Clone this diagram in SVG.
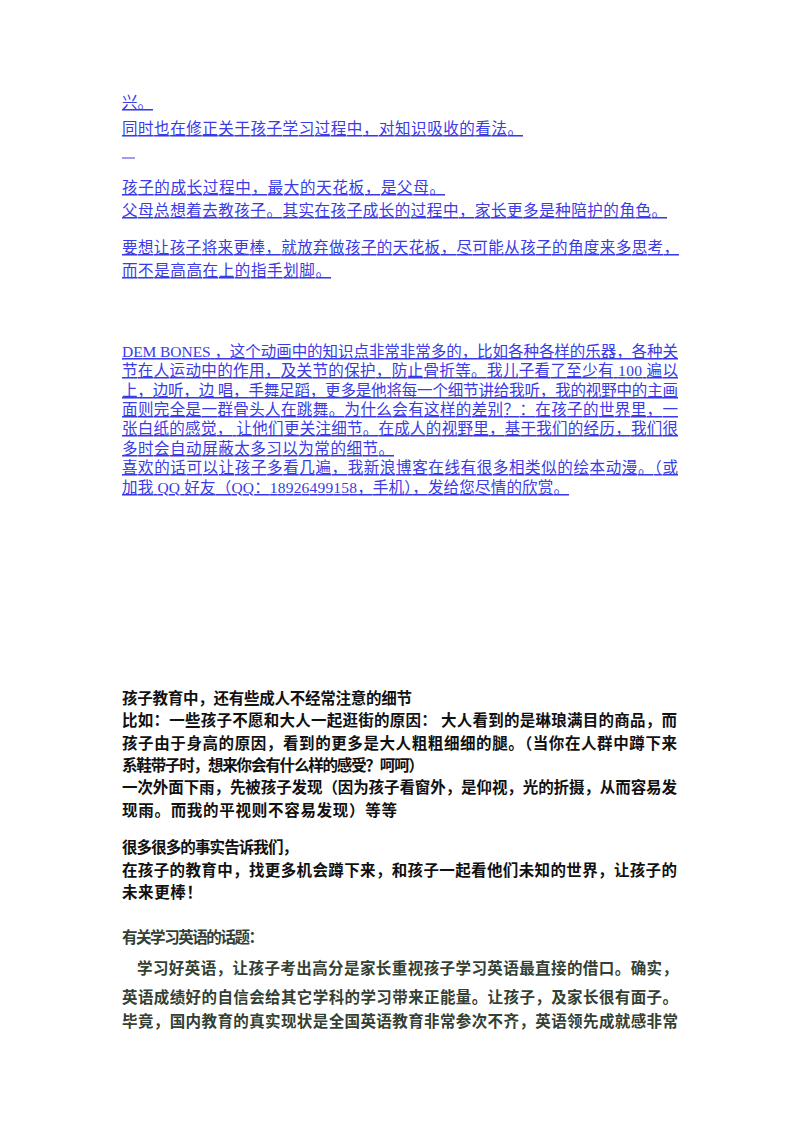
<svg xmlns="http://www.w3.org/2000/svg" width="800" height="1132" viewBox="0 0 800 1132">
<style>
.b{font-family:"Liberation Serif","Noto Sans CJK SC",serif;font-size:15.5px;fill:#3a3ae6;text-decoration:underline}
.k{font-family:"Liberation Serif","Noto Sans CJK SC",serif;font-size:15.5px;font-weight:bold;fill:#111}
.g{font-family:"Liberation Serif","Noto Sans CJK SC",serif;font-size:15.5px;font-weight:bold;fill:#334033}
</style>
<rect width="800" height="1132" fill="#fff"/>
<g id="blue1">
<text class="b" x="122" y="108">兴。</text>
<text class="b" x="122" y="134" textLength="401">同时也在修正关于孩子学习过程中，对知识吸收的看法。</text>
<line x1="122" y1="158" x2="135" y2="158" stroke="#3a3ae6" stroke-width="1"/>
<text class="b" x="122" y="193" textLength="323">孩子的成长过程中，最大的天花板，是父母。</text>
<text class="b" x="122" y="216" textLength="545">父母总想着去教孩子。其实在孩子成长的过程中，家长更多是种陪护的角色。</text>
<text class="b" x="122" y="253" textLength="557">要想让孩子将来更棒，就放弃做孩子的天花板，尽可能从孩子的角度来多思考，</text>
<text class="b" x="122" y="276" textLength="209">而不是高高在上的指手划脚。</text>
</g>
<g id="blue2">
<text class="b" x="122" y="357" textLength="556">DEM BONES ，这个动画中的知识点非常非常多的，比如各种各样的乐器，各种关</text>
<text class="b" x="122" y="376" textLength="556">节在人运动中的作用，及关节的保护，防止骨折等。我儿子看了至少有 100 遍以</text>
<text class="b" x="122" y="396" textLength="556">上，边听，边 唱，手舞足蹈，更多是他将每一个细节讲给我听，我的视野中的主画</text>
<text class="b" x="122" y="415" textLength="556">面则完全是一群骨头人在跳舞。为什么会有这样的差别？：在孩子的世界里，一</text>
<text class="b" x="122" y="434" textLength="556">张白纸的感觉， 让他们更关注细节。在成人的视野里，基于我们的经历，我们很</text>
<text class="b" x="122" y="454" textLength="272">多时会自动屏蔽太多习以为常的细节。</text>
<text class="b" x="122" y="473" textLength="556">喜欢的话可以让孩子多看几遍，我新浪博客在线有很多相类似的绘本动漫。（或</text>
<text class="b" x="122" y="493" textLength="447">加我 QQ 好友（QQ：18926499158，手机），发给您尽情的欣赏。</text>
</g>
<g id="bold">
<text class="k" x="122" y="704" textLength="290">孩子教育中，还有些成人不经常注意的细节</text>
<text class="k" x="122" y="726" textLength="555">比如：一些孩子不愿和大人一起逛街的原因： 大人看到的是琳琅满目的商品，而</text>
<text class="k" x="122" y="749" textLength="555">孩子由于身高的原因，看到的更多是大人粗粗细细的腿。（当你在人群中蹲下来</text>
<text class="k" x="122" y="771" textLength="302">系鞋带子时，想来你会有什么样的感受？呵呵）</text>
<text class="k" x="122" y="793" textLength="555">一次外面下雨，先被孩子发现（因为孩子看窗外，是仰视，光的折摄，从而容易发</text>
<text class="k" x="122" y="816" textLength="275">现雨。而我的平视则不容易发现）等等</text>
<text class="k" x="122" y="853" textLength="176">很多很多的事实告诉我们，</text>
<text class="k" x="122" y="876" textLength="555">在孩子的教育中，找更多机会蹲下来，和孩子一起看他们未知的世界，让孩子的</text>
<text class="k" x="122" y="898" textLength="80">未来更棒！</text>
</g>
<g id="english">
<text class="g" x="122" y="943" textLength="142">有关学习英语的话题：</text>
<text class="g" x="137" y="974" textLength="541">学习好英语，让孩子考出高分是家长重视孩子学习英语最直接的借口。确实，</text>
<text class="g" x="122" y="1003" textLength="556">英语成绩好的自信会给其它学科的学习带来正能量。让孩子，及家长很有面子。</text>
<text class="g" x="122" y="1027" textLength="556">毕竟，国内教育的真实现状是全国英语教育非常参次不齐，英语领先成就感非常</text>
</g>
</svg>
